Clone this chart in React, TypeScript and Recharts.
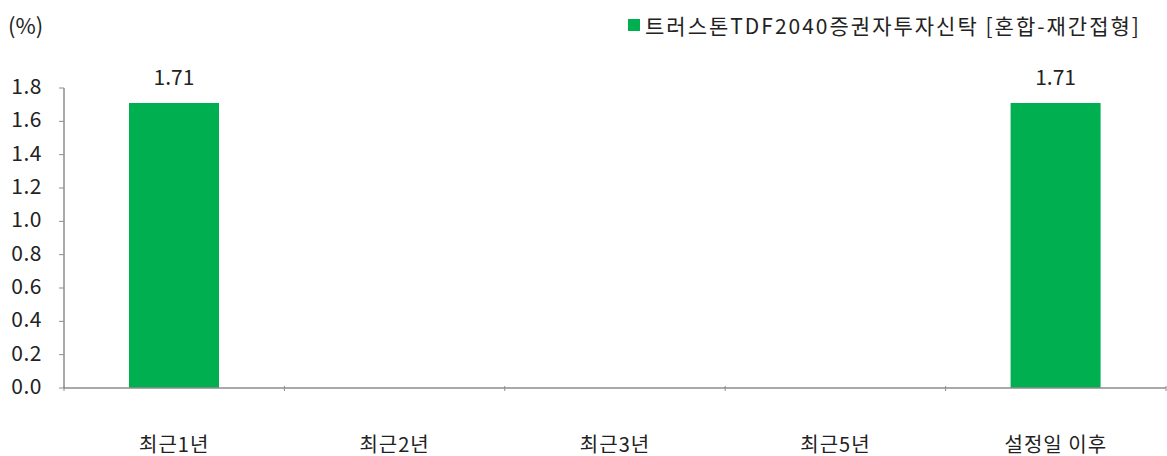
import React from 'react';
import { BarChart, Bar, XAxis, YAxis, LabelList } from 'recharts';

const categories = ['최근1년', '최근2년', '최근3년', '최근5년', '설정일 이후'];
const fundValues: (number | null)[] = [1.71, null, null, null, 1.71];
const yTicks = [0, 0.2, 0.4, 0.6, 0.8, 1.0, 1.2, 1.4, 1.6, 1.8];
const seriesName = '트러스톤TDF2040증권자투자신탁 [혼합-재간접형]';
const unitLabel = '(%)';

const data = categories.map((c, i) => ({ name: c, fund: fundValues[i] }));

const FONT = '"Noto Sans CJK KR", "Noto Sans", sans-serif';
const TEXT = '#222';
const AXIS = '#8c8c8c';
const GREEN = '#00B050';

const XTick = (props: any) => {
  const { x, y, payload, index, visibleTicksCount } = props;
  const half = payload && payload.offset ? payload.offset : 110;
  const isLast = index === (visibleTicksCount ?? categories.length) - 1;
  const axisY = y - 8;
  return (
    <g>
      <line x1={x - half} x2={x - half} y1={axisY} y2={axisY + 5} stroke={AXIS} strokeWidth={1} />
      {isLast && (
        <line x1={x + half} x2={x + half} y1={axisY} y2={axisY + 5} stroke={AXIS} strokeWidth={1} />
      )}
      <text x={x} y={axisY + 57} textAnchor="middle" dominantBaseline="central" fill={TEXT} fontSize={20} letterSpacing={1} fontFamily={FONT}>
        {payload.value}
      </text>
    </g>
  );
};

const YTick = (props: any) => {
  const { x, y, payload } = props;
  return (
    <text x={x} y={y - 3} textAnchor="end" dominantBaseline="central" fill={TEXT} fontSize={21} letterSpacing={0.5} fontFamily={FONT}>
      {Number(payload.value).toFixed(1)}
    </text>
  );
};

export default function App() {
  return (
    <div style={{ position: 'absolute', left: 0, top: 0, width: 1167, height: 456, background: '#fff' }}>
      <div style={{ position: 'absolute', left: 8, top: 9, fontFamily: FONT, fontSize: 22, color: TEXT, lineHeight: '30px' }}>{unitLabel}</div>
      <div
        style={{
          position: 'absolute',
          left: 628,
          top: 10,
          display: 'flex',
          alignItems: 'center',
          fontFamily: FONT,
          fontSize: 21,
          letterSpacing: 2,
          lineHeight: '30px',
          color: TEXT,
          whiteSpace: 'nowrap',
        }}
      >
        <span style={{ display: 'inline-block', width: 12, height: 12, background: GREEN, marginRight: 5 }} />
        <span>{seriesName}</span>
      </div>
      <BarChart width={1167} height={456} data={data} margin={{ top: 88, right: 1, left: 0, bottom: 0 }} barSize={90}>
        <XAxis
          dataKey="name"
          height={68}
          axisLine={{ stroke: AXIS, strokeWidth: 1.5 }}
          tickLine={false}
          tick={<XTick />}
          tickMargin={0}
          interval={0}
        />
        <YAxis
          width={64}
          domain={[0, 1.8]}
          ticks={yTicks}
          interval={0}
          axisLine={{ stroke: AXIS, strokeWidth: 1.5 }}
          tickLine={{ stroke: AXIS }}
          tickSize={5}
          tickMargin={17}
          tick={<YTick />}
        />
        <Bar dataKey="fund" fill={GREEN} isAnimationActive={false}>
          <LabelList
            dataKey="fund"
            position="top"
            offset={18}
            fill={TEXT}
            fontSize={21}
            fontFamily={FONT}
            formatter={(v: any) => (v == null ? '' : Number(v).toFixed(2))}
          />
        </Bar>
      </BarChart>
    </div>
  );
}
